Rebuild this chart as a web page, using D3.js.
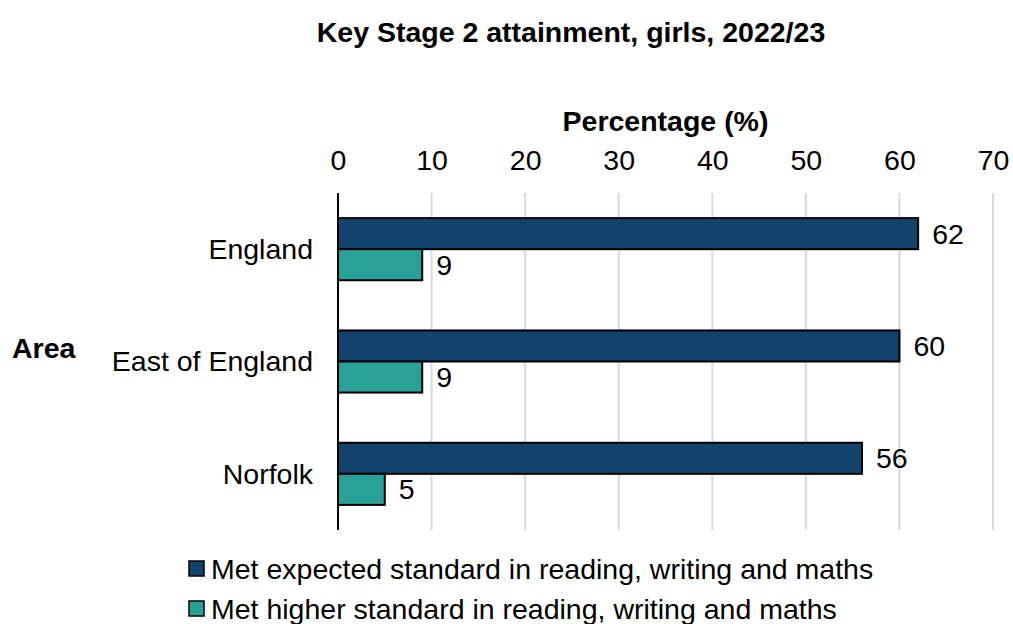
<!DOCTYPE html>
<html>
<head>
<meta charset="utf-8">
<script src="https://cdn.jsdelivr.net/npm/d3@7"></script>
<style>
  body { margin: 0; background: #fff; }
  svg { display: block; font-family: "Liberation Sans", Arial, sans-serif; }
</style>
</head>
<body>
<svg id="chart" width="1013" height="624"></svg>
<script>
const areas = ["England", "East of England", "Norfolk"];
const seriesNames = [
  "Met expected standard in reading, writing and maths",
  "Met higher standard in reading, writing and maths"
];
const expectedValues = [62, 60, 56];
const higherValues = [9, 9, 5];
const xTicks = [0, 10, 20, 30, 40, 50, 60, 70];
const colors = ["#12436D", "#28A197"];

const FS = 28.5;
const svg = d3.select("#chart");
const plot = { left: 338, right: 993, top: 193, bottom: 530 };

const x = d3.scaleLinear().domain([0, 70]).range([plot.left, plot.right]);
const y = d3.scaleBand().domain(areas).range([plot.top, plot.bottom]).paddingInner(0.447).paddingOuter(0.2235);
const sub = d3.scaleBand().domain([0, 1]).range([0, y.bandwidth()]);

// Title
svg.append("text")
  .attr("x", 571).attr("y", 42)
  .attr("text-anchor", "middle")
  .attr("font-weight", "bold").attr("font-size", FS)
  .text("Key Stage 2 attainment, girls, 2022/23");

// Vertical gridlines
svg.append("g").selectAll("line")
  .data(xTicks.filter(d => d > 0))
  .join("line")
  .attr("x1", d => x(d)).attr("x2", d => x(d))
  .attr("y1", plot.top).attr("y2", plot.bottom)
  .attr("stroke", "#d9d9d9").attr("stroke-width", 2);

// Top axis with tick labels only
const xAxis = svg.append("g")
  .attr("transform", `translate(0,${plot.top - 23})`)
  .call(d3.axisTop(x).tickValues(xTicks).tickSize(0).tickPadding(0));
xAxis.select(".domain").remove();
xAxis.selectAll("text")
  .attr("font-size", FS).attr("fill", "#000").attr("dy", 0)
  .attr("font-family", "Liberation Sans, Arial, sans-serif");

svg.append("text")
  .attr("x", (plot.left + plot.right) / 2).attr("y", 131)
  .attr("text-anchor", "middle")
  .attr("font-weight", "bold").attr("font-size", FS)
  .text("Percentage (%)");

// Category axis title
svg.append("text")
  .attr("x", 12).attr("y", 348)
  .attr("dy", "0.35em")
  .attr("font-weight", "bold").attr("font-size", FS)
  .text("Area");

// Category labels
svg.append("g").selectAll("text")
  .data(areas)
  .join("text")
  .attr("x", 313)
  .attr("y", d => y(d) + y.bandwidth() / 2)
  .attr("dy", "0.35em")
  .attr("text-anchor", "end")
  .attr("font-size", FS)
  .text(d => d);

// Bars
const series = [expectedValues, higherValues];
series.forEach((vals, si) => {
  const g = svg.append("g");
  g.selectAll("rect")
    .data(areas.map((a, i) => ({ area: a, value: vals[i] })))
    .join("rect")
    .attr("x", x(0))
    .attr("y", d => y(d.area) + sub(si))
    .attr("width", d => x(d.value) - x(0))
    .attr("height", sub.bandwidth())
    .attr("fill", colors[si])
    .attr("stroke", "#000").attr("stroke-width", 2);
  g.selectAll("text")
    .data(areas.map((a, i) => ({ area: a, value: vals[i] })))
    .join("text")
    .attr("x", d => x(d.value) + 14)
    .attr("y", d => y(d.area) + sub(si) + sub.bandwidth() / 2)
    .attr("dy", "0.35em")
    .attr("font-size", FS)
    .text(d => d.value);
});

// Category axis line
svg.append("line")
  .attr("x1", plot.left).attr("x2", plot.left)
  .attr("y1", plot.top).attr("y2", plot.bottom)
  .attr("stroke", "#000").attr("stroke-width", 2);

// Legend
const legend = svg.append("g");
seriesNames.forEach((name, i) => {
  const ly = 569 + i * 40;
  legend.append("rect")
    .attr("x", 189).attr("y", ly - 8)
    .attr("width", 15).attr("height", 15)
    .attr("fill", colors[i])
    .attr("stroke", "#000").attr("stroke-width", 1.5);
  legend.append("text")
    .attr("x", 211).attr("y", ly)
    .attr("dy", "0.35em")
    .attr("font-size", FS)
    .text(name);
});
</script>
</body>
</html>
